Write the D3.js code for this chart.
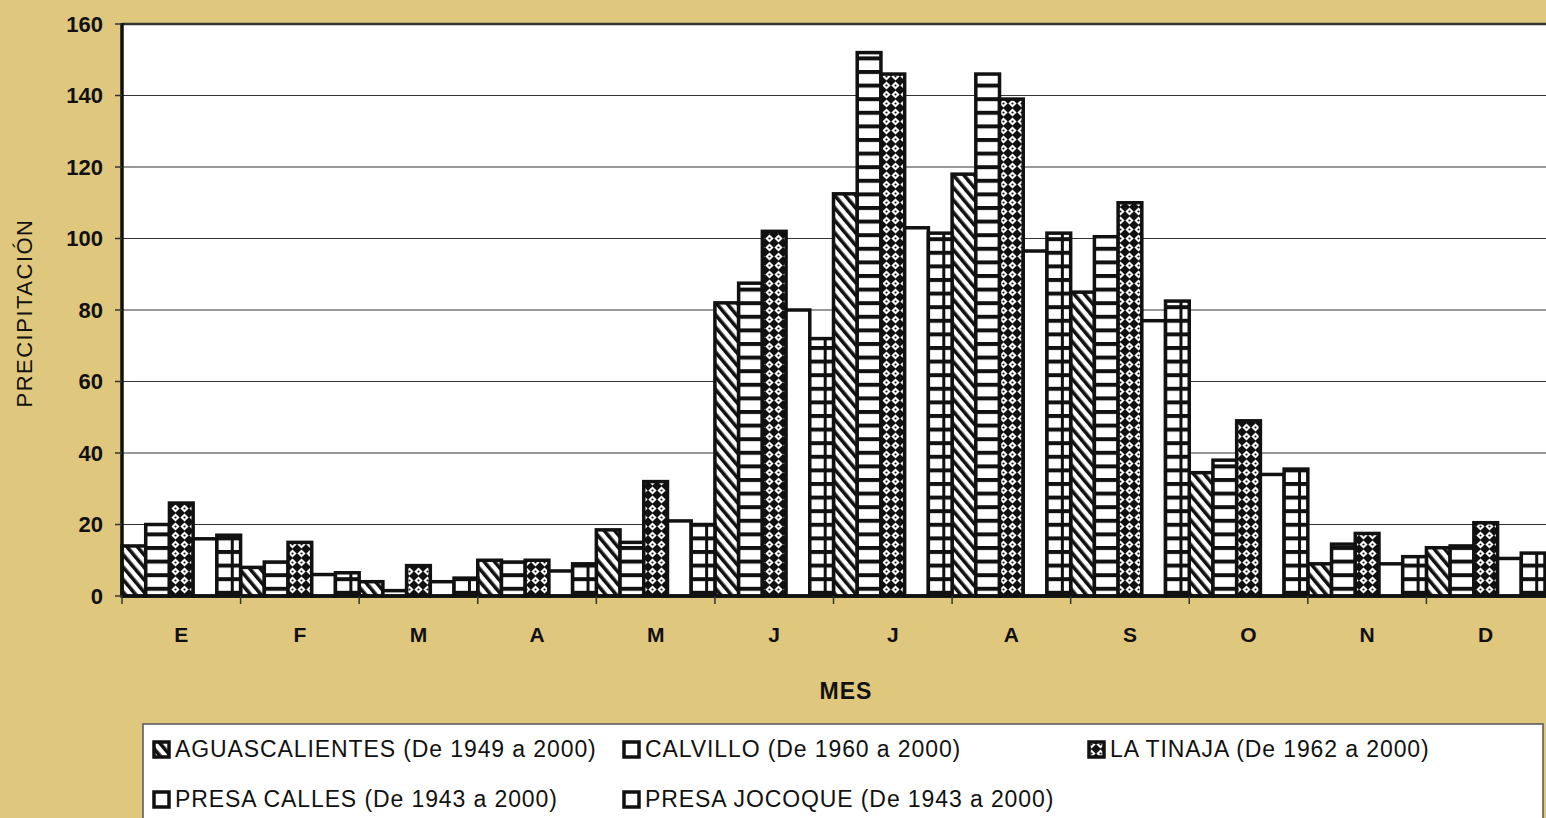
<!DOCTYPE html>
<html>
<head>
<meta charset="utf-8">
<script src="https://cdn.jsdelivr.net/npm/d3@7"></script>
<style>
  body { margin: 0; background: #dfc87e; overflow: hidden; }
  text { font-family: "Liberation Sans", Arial, sans-serif; fill: #111; }
</style>
</head>
<body>
<div id="vizContainer1"></div>
<script>
let w = 1546;
let h = 818;

// datos
let months = ["E", "F", "M", "A", "M", "J", "J", "A", "S", "O", "N", "D"];
let stations = ["AGUASCALIENTES (De 1949 a 2000)", "CALVILLO (De 1960 a 2000)", "LA TINAJA (De 1962 a 2000)",
  "PRESA CALLES (De 1943 a 2000)", "PRESA JOCOQUE (De 1943 a 2000)"];
let aguascalientes = [14, 8, 4, 10, 18.5, 82, 112.5, 118, 85, 34.5, 9, 13.5];
let calvillo = [20, 9.5, 1.5, 9.5, 15, 87.5, 152, 146, 100.5, 38, 14.5, 14];
let laTinaja = [26, 15, 8.5, 10, 32, 102, 146, 139, 110, 49, 17.5, 20.5];
let presaCalles = [16, 6, 4, 7, 21, 80, 103, 96.5, 77, 34, 9, 10.5];
let presaJocoque = [17, 6.5, 5, 9, 20, 72, 101.5, 101.5, 82.5, 35.5, 11, 12];
let yTicks = [0, 20, 40, 60, 80, 100, 120, 140, 160];

let series = [aguascalientes, calvillo, laTinaja, presaCalles, presaJocoque];
let fills = ["url(#diag)", "url(#horiz)", "url(#cross)", "#fff", "url(#grid)"];
let swatchFills = ["url(#diag)", "#fff", "url(#cross)", "#fff", "#fff"];

let viz = d3.select("#vizContainer1")
  .append("svg")
  .attr("width", w)
  .attr("height", h)
  .style("background-color", "#dfc87e")
  ;

// patrones de relleno
let defs = viz.append("defs");

let diag = defs.append("pattern").attr("id", "diag")
  .attr("patternUnits", "userSpaceOnUse")
  .attr("width", 8).attr("height", 8)
  .attr("patternTransform", "rotate(-40)");
diag.append("rect").attr("width", 8).attr("height", 8).attr("fill", "#fff");
diag.append("rect").attr("width", 3.6).attr("height", 8).attr("fill", "#111");

let horiz = defs.append("pattern").attr("id", "horiz")
  .attr("patternUnits", "userSpaceOnUse")
  .attr("width", 10).attr("height", 13.6).attr("y", 2);
horiz.append("rect").attr("width", 10).attr("height", 13.6).attr("fill", "#fff");
horiz.append("rect").attr("width", 10).attr("height", 4).attr("fill", "#111");

let cross = defs.append("pattern").attr("id", "cross")
  .attr("patternUnits", "userSpaceOnUse")
  .attr("width", 9).attr("height", 9);
cross.append("rect").attr("width", 9).attr("height", 9).attr("fill", "#111");
cross.append("path").attr("d", "M4.5,0.4 L8.6,4.5 L4.5,8.6 L0.4,4.5 Z").attr("fill", "#fff");
cross.append("circle").attr("cx", 4.5).attr("cy", 4.5).attr("r", 1.1).attr("fill", "#111");

let grid = defs.append("pattern").attr("id", "grid")
  .attr("patternUnits", "userSpaceOnUse")
  .attr("width", 10).attr("height", 13.6).attr("y", 6);
grid.append("rect").attr("width", 10).attr("height", 13.6).attr("fill", "#fff");
grid.append("rect").attr("width", 10).attr("height", 4).attr("fill", "#111");

let plotLeft = 122;
let plotRight = 1545;
let plotTop = 24;
let plotBottom = 596;

let xScale = d3.scaleBand().domain(d3.range(months.length)).range([plotLeft, plotRight]).padding(0);
let innerScale = d3.scaleBand().domain(d3.range(series.length)).range([0, xScale.bandwidth()]).padding(0);
let yScale = d3.scaleLinear().domain([0, 160]).range([plotBottom, plotTop]);

// area del grafico
viz.append("rect")
  .attr("x", plotLeft)
  .attr("y", plotTop)
  .attr("width", w - plotLeft + 2)
  .attr("height", plotBottom - plotTop)
  .attr("fill", "#fff")
  ;

let gridGroup = viz.append("g").attr("class", "gridGroup");
gridGroup.selectAll("line").data(yTicks.slice(1)).enter()
  .append("line")
  .attr("x1", plotLeft).attr("x2", w)
  .attr("y1", d => yScale(d)).attr("y2", d => yScale(d))
  .attr("stroke", "#333")
  .attr("stroke-width", d => d == 160 ? 2.5 : 1.2)
  ;

// barras
let barGroup = viz.append("g").attr("class", "barGroup");
series.forEach((values, s) => {
  let g = barGroup.append("g").attr("class", "series" + s);
  let bars = g.selectAll("g").data(values).enter().append("g");
  bars.append("rect")
    .attr("x", (d, i) => xScale(i) + innerScale(s))
    .attr("y", d => yScale(d))
    .attr("width", innerScale.bandwidth())
    .attr("height", d => yScale(0) - yScale(d))
    .attr("fill", fills[s])
    .attr("stroke", "#111")
    .attr("stroke-width", 3.5)
    ;
  if (s == 4) {
    bars.append("line")
      .attr("x1", (d, i) => xScale(i) + innerScale(s) + innerScale.bandwidth() * 0.65)
      .attr("x2", (d, i) => xScale(i) + innerScale(s) + innerScale.bandwidth() * 0.65)
      .attr("y1", d => yScale(d))
      .attr("y2", yScale(0))
      .attr("stroke", "#111")
      .attr("stroke-width", 3)
      ;
  }
});

// eje Y
let yAxisGroup = viz.append("g").attr("class", "yAxisGroup");
yAxisGroup.append("line")
  .attr("x1", plotLeft).attr("x2", plotLeft)
  .attr("y1", plotTop - 1).attr("y2", plotBottom)
  .attr("stroke", "#111").attr("stroke-width", 3.5);
yAxisGroup.selectAll(".tick").data(yTicks).enter()
  .append("line")
  .attr("x1", plotLeft - 7).attr("x2", plotLeft)
  .attr("y1", d => yScale(d)).attr("y2", d => yScale(d))
  .attr("stroke", "#333").attr("stroke-width", 1.5);
yAxisGroup.selectAll("text").data(yTicks).enter()
  .append("text")
  .attr("x", 103)
  .attr("y", d => yScale(d))
  .attr("dy", "0.35em")
  .attr("text-anchor", "end")
  .attr("font-size", 22)
  .attr("font-weight", "bold")
  .text(d => d)
  ;

// eje X
let xAxisGroup = viz.append("g").attr("class", "xAxisGroup");
xAxisGroup.append("line")
  .attr("x1", plotLeft).attr("x2", w)
  .attr("y1", plotBottom).attr("y2", plotBottom)
  .attr("stroke", "#111").attr("stroke-width", 3.5);
xAxisGroup.selectAll(".tick").data(d3.range(months.length)).enter()
  .append("line")
  .attr("x1", d => xScale(d)).attr("x2", d => xScale(d))
  .attr("y1", plotBottom).attr("y2", plotBottom + 8)
  .attr("stroke", "#333").attr("stroke-width", 1.5);
xAxisGroup.selectAll("text").data(months).enter()
  .append("text")
  .attr("x", (d, i) => xScale(i) + xScale.bandwidth() / 2)
  .attr("y", 642)
  .attr("text-anchor", "middle")
  .attr("font-size", 21)
  .attr("font-weight", "bold")
  .text(d => d)
  ;

viz.append("text")
  .attr("x", 846)
  .attr("y", 699)
  .attr("text-anchor", "middle")
  .attr("font-size", 23)
  .attr("font-weight", "bold")
  .attr("letter-spacing", 1)
  .text("MES");

viz.append("text")
  .attr("transform", "translate(32,313) rotate(-90)")
  .attr("text-anchor", "middle")
  .attr("font-size", 22)
  .attr("letter-spacing", 1.5)
  .text("PRECIPITACIÓN");

// leyenda
let legendGroup = viz.append("g").attr("class", "legendGroup");
legendGroup.append("rect")
  .attr("x", 143).attr("y", 724)
  .attr("width", 1400).attr("height", 110)
  .attr("fill", "#fff")
  .attr("stroke", "#555").attr("stroke-width", 1.5);

let legendPos = [[152, 749], [622, 749], [1087, 749], [152, 799], [622, 799]];
let items = legendGroup.selectAll(".item").data(stations).enter()
  .append("g")
  .attr("class", "item")
  .attr("transform", (d, i) => "translate(" + legendPos[i][0] + "," + legendPos[i][1] + ")");
items.append("rect")
  .attr("x", 2).attr("y", -7)
  .attr("width", 15).attr("height", 15)
  .attr("fill", (d, i) => swatchFills[i])
  .attr("stroke", "#111").attr("stroke-width", 3.5);
items.append("text")
  .attr("x", 23)
  .attr("y", 0)
  .attr("dy", "0.36em")
  .attr("font-size", 23)
  .attr("letter-spacing", 0.9)
  .text(d => d);
</script>
</body>
</html>
